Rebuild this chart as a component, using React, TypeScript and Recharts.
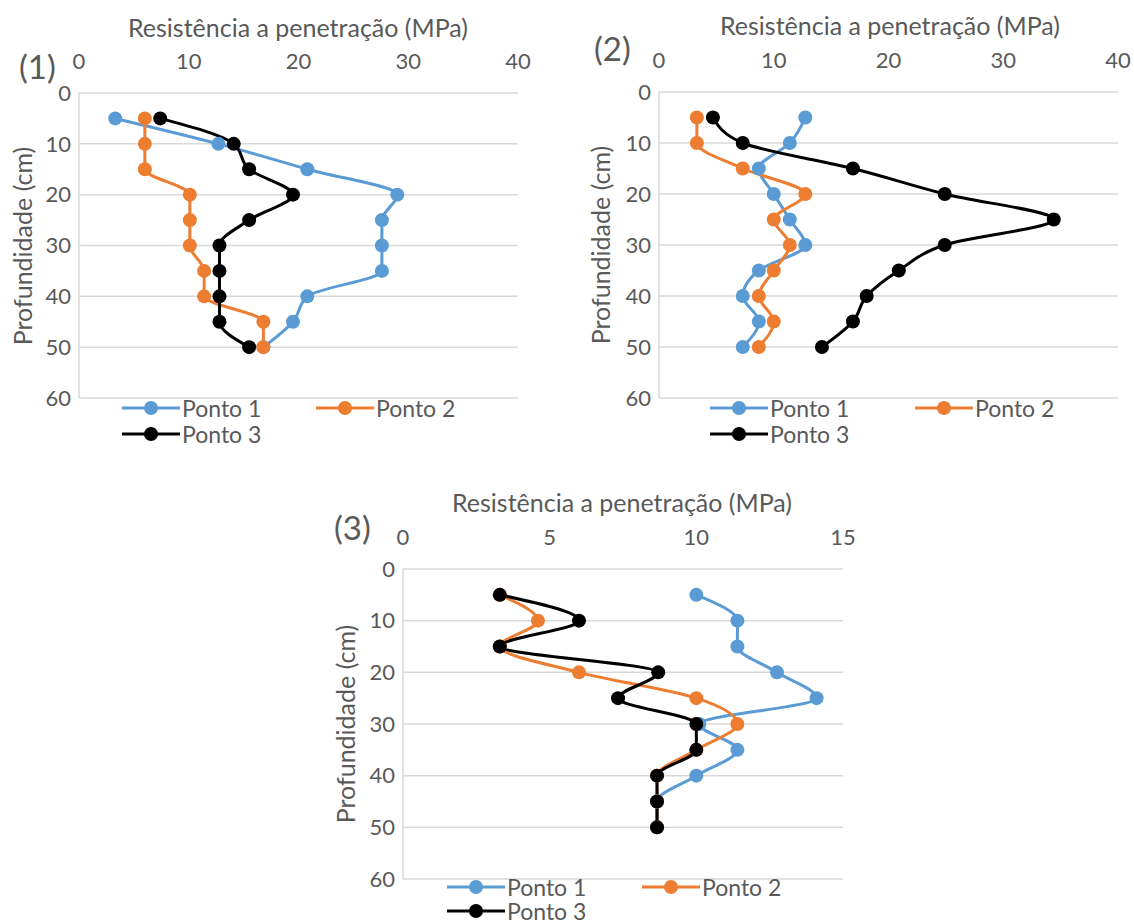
import React from "react";
import { LineChart, Line, XAxis, YAxis, CartesianGrid } from "recharts";

const depths = [5, 10, 15, 20, 25, 30, 35, 40, 45, 50];
const depthTicks = [0, 10, 20, 30, 40, 50, 60];

const ticks40 = [0, 10, 20, 30, 40];
const ticks15 = [0, 5, 10, 15];

const chart1Ponto1 = [3.3, 12.7, 20.8, 29.0, 27.6, 27.6, 27.6, 20.8, 19.5, 16.8];
const chart1Ponto2 = [6.0, 6.0, 6.0, 10.1, 10.1, 10.1, 11.4, 11.4, 16.8, 16.8];
const chart1Ponto3 = [7.4, 14.1, 15.5, 19.5, 15.5, 12.8, 12.8, 12.8, 12.8, 15.5];

const chart2Ponto1 = [12.75, 11.4, 8.7, 10.0, 11.4, 12.75, 8.7, 7.3, 8.7, 7.3];
const chart2Ponto2 = [3.3, 3.3, 7.3, 12.75, 10.0, 11.4, 10.0, 8.7, 10.0, 8.7];
const chart2Ponto3 = [4.7, 7.3, 16.9, 24.9, 34.4, 24.9, 20.9, 18.1, 16.9, 14.2];

const chart3Ponto1 = [10.0, 11.4, 11.4, 12.75, 14.1, 10.1, 11.4, 10.0, 8.66, 8.66];
const chart3Ponto2 = [3.3, 4.6, 3.3, 6.0, 10.0, 11.4, 10.0, 8.66, 8.66, 8.66];
const chart3Ponto3 = [3.3, 6.0, 3.3, 8.7, 7.33, 10.0, 10.0, 8.66, 8.66, 8.66];

const seriesNames = ["Ponto 1", "Ponto 2", "Ponto 3"];
const colors = ["#5B9BD5", "#ED7D31", "#000000"];

const FONT = "Lato, 'Liberation Sans', sans-serif";
const TEXT = "#595959";
const GRID = "#D9D9D9";

function buildRows(p1: number[], p2: number[], p3: number[]) {
  return depths.map((d, i) => ({ depth: d, p1: p1[i], p2: p2[i], p3: p3[i] }));
}

function LegendItem({ x, y, color, label }: { x: number; y: number; color: string; label: string }) {
  return (
    <div style={{ position: "absolute", left: x, top: y - 12, height: 24, display: "flex", alignItems: "center" }}>
      <svg width={58} height={20}>
        <line x1={0} y1={10} x2={58} y2={10} stroke={color} strokeWidth={3} />
        <circle cx={29} cy={10} r={7} fill={color} />
      </svg>
      <span style={{ marginLeft: 2, fontSize: 23, color: TEXT, fontFamily: FONT, lineHeight: "24px" }}>{label}</span>
    </div>
  );
}

interface PanelProps {
  left: number;
  top: number;
  width: number;
  height: number;
  tag: string;
  tagX: number;
  tagY: number;
  titleX: number;
  titleY: number;
  ylabelX: number;
  margin: { top: number; right: number; bottom: number; left: number };
  xMax: number;
  xTicks: number[];
  rows: any[];
  legendX: number;
  legendGap: number;
  legendY1: number;
  legendY2: number;
}

function Panel(p: PanelProps) {
  const keys = ["p1", "p2", "p3"];
  const plotTop = p.margin.top + 30;
  const plotBottom = p.height - p.margin.bottom;
  return (
    <div style={{ position: "absolute", left: p.left, top: p.top, width: p.width, height: p.height, fontFamily: FONT }}>
      <div
        style={{
          position: "absolute",
          left: p.titleX - 250,
          width: 500,
          top: p.titleY - 15,
          textAlign: "center",
          fontSize: 25,
          color: TEXT,
          lineHeight: "30px",
        }}
      >
        Resistência a penetração (MPa)
      </div>
      <div style={{ position: "absolute", left: p.tagX, top: p.tagY - 20, fontSize: 33, color: TEXT, lineHeight: "40px" }}>
        {p.tag}
      </div>
      <div
        style={{
          position: "absolute",
          left: p.ylabelX - 150,
          width: 300,
          top: (plotTop + plotBottom) / 2 - 15,
          textAlign: "center",
          fontSize: 25,
          color: TEXT,
          lineHeight: "30px",
          transform: "rotate(-90deg)",
        }}
      >
        Profundidade (cm)
      </div>
      <LineChart
        width={p.width}
        height={p.height}
        data={p.rows}
        layout="vertical"
        margin={p.margin}
        style={{ position: "absolute", left: 0, top: 0 }}
      >
        <CartesianGrid horizontal={true} vertical={false} stroke={GRID} strokeWidth={1.5} />
        <XAxis
          type="number"
          orientation="top"
          domain={[0, p.xMax]}
          ticks={p.xTicks}
          axisLine={false}
          tickLine={false}
          height={30}
          tickMargin={18}
          tick={{ fontSize: 22, fill: TEXT, fontFamily: FONT }}
        />
        <YAxis
          type="number"
          dataKey="depth"
          domain={[0, 60]}
          ticks={depthTicks}
          axisLine={{ stroke: GRID, strokeWidth: 1.5 }}
          tickLine={false}
          width={40}
          tick={{ fontSize: 22, fill: TEXT, fontFamily: FONT }}
        />
        {keys.map((k, i) => (
          <Line
            key={k}
            dataKey={k}
            name={seriesNames[i]}
            type="monotone"
            stroke={colors[i]}
            strokeWidth={3}
            dot={{ r: 7, fill: colors[i], stroke: colors[i], strokeWidth: 0 }}
            isAnimationActive={false}
          />
        ))}
      </LineChart>
      <LegendItem x={p.legendX} y={p.legendY1} color={colors[0]} label={seriesNames[0]} />
      <LegendItem x={p.legendX + p.legendGap} y={p.legendY1} color={colors[1]} label={seriesNames[1]} />
      <LegendItem x={p.legendX} y={p.legendY2} color={colors[2]} label={seriesNames[2]} />
    </div>
  );
}

export default function App() {
  return (
    <div style={{ position: "absolute", left: 0, top: 0, width: 1134, height: 923, background: "#fff", overflow: "hidden" }}>
      <Panel
        left={0}
        top={0}
        width={540}
        height={450}
        tag="(1)"
        tagX={19}
        tagY={66}
        titleX={298}
        titleY={27}
        ylabelX={22}
        margin={{ top: 63, right: 22, bottom: 52, left: 39 }}
        xMax={40}
        xTicks={ticks40}
        rows={buildRows(chart1Ponto1, chart1Ponto2, chart1Ponto3)}
        legendX={122}
        legendGap={194}
        legendY1={408}
        legendY2={434}
      />
      <Panel
        left={580}
        top={0}
        width={554}
        height={450}
        tag="(2)"
        tagX={14}
        tagY={48}
        titleX={310}
        titleY={25}
        ylabelX={20}
        margin={{ top: 62, right: 16, bottom: 52, left: 39 }}
        xMax={40}
        xTicks={ticks40}
        rows={buildRows(chart2Ponto1, chart2Ponto2, chart2Ponto3)}
        legendX={130}
        legendGap={205}
        legendY1={408}
        legendY2={434}
      />
      <Panel
        left={320}
        top={480}
        width={540}
        height={443}
        tag="(3)"
        tagX={14}
        tagY={47}
        titleX={302}
        titleY={22}
        ylabelX={25}
        margin={{ top: 59, right: 17, bottom: 44, left: 43 }}
        xMax={15}
        xTicks={ticks15}
        rows={buildRows(chart3Ponto1, chart3Ponto2, chart3Ponto3)}
        legendX={127}
        legendGap={195}
        legendY1={407}
        legendY2={431}
      />
    </div>
  );
}
